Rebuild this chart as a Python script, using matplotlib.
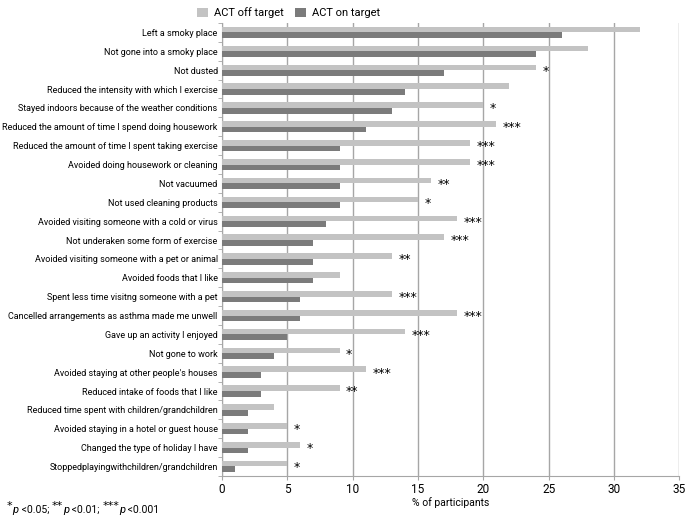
import matplotlib.pyplot as plt
from matplotlib import font_manager
import numpy as np

names = {f.name for f in font_manager.fontManager.ttflist}
narrow = 'Liberation Sans Narrow' if 'Liberation Sans Narrow' in names else 'Roboto'
plt.rcParams['font.family'] = [narrow, 'DejaVu Sans']

categories = [
    'Left a smoky place',
    'Not gone into a smoky place',
    'Not dusted',
    'Reduced the intensity with which I exercise',
    'Stayed indoors because of the weather conditions',
    'Reduced the amount of time I spend doing housework',
    'Reduced the amount of time I spent taking exercise',
    'Avoided doing housework or cleaning',
    'Not vacuumed',
    'Not used cleaning products',
    'Avoided visiting someone with a cold or virus',
    'Not underaken some form of exercise',
    'Avoided visiting someone with a pet or animal',
    'Avoided foods that I like',
    'Spent less time visitng someone with a pet',
    'Cancelled arrangements as asthma made me unwell',
    'Gave up an activity I enjoyed',
    'Not gone to work',
    "Avoided staying at other people's houses",
    'Reduced intake of foods that I like',
    'Reduced time spent with children/grandchildren',
    'Avoided staying in a hotel or guest house',
    'Changed the type of holiday I have',
    'Stoppedplayingwithchildren/grandchildren',
]
off_target = [32, 28, 24, 22, 20, 21, 19, 19, 16, 15, 18, 17, 13, 9, 13, 18, 14, 9, 11, 9, 4, 5, 6, 5]
on_target = [26, 24, 17, 14, 13, 11, 9, 9, 9, 9, 8, 7, 7, 7, 6, 6, 5, 4, 3, 3, 2, 2, 2, 1]
stars = ['', '', '*', '', '*', '***', '***', '***', '**', '*', '***', '***', '**', '',
         '***', '***', '***', '*', '***', '**', '', '*', '*', '*']

light = '#c3c3c3'
dark = '#7b7b7b'
grid = '#a6a6a6'

fig = plt.figure(figsize=(6.87, 5.23), dpi=100)
ax = fig.add_axes([0.323, 0.090, 0.666, 0.866])

y = np.arange(len(categories))
h = 0.3
ax.barh(y - h / 2, off_target, height=h, color=light, label='ACT off target', zorder=3)
ax.barh(y + h / 2, on_target, height=h, color=dark, label='ACT on target', zorder=3)

for yi, v, s in zip(y, off_target, stars):
    if s:
        ax.text(v + 0.5, yi - h / 2 + 0.2, s, fontsize=9, ha='left', va='center',
                family='DejaVu Sans', zorder=4)

ax.set_xlim(0, 35)
ax.set_ylim(len(categories) - 0.5, -0.5)
ax.set_xticks(np.arange(0, 36, 5))
ax.set_yticks(y)
ax.set_yticklabels(categories, fontsize=6.5)
ax.set_yticks(np.arange(-0.5, len(categories), 1), minor=True)
ax.tick_params(axis='y', which='major', length=0, pad=3)
ax.tick_params(axis='y', which='minor', length=3, color=grid)
ax.tick_params(axis='x', length=3, color=grid, labelsize=8.5, pad=2)
ax.grid(axis='x', color=grid, linewidth=1, zorder=0)
for side in ['top', 'right']:
    ax.spines[side].set_visible(False)
for side in ['left', 'bottom']:
    ax.spines[side].set_color(grid)

ax.set_xlabel('% of participants', fontsize=7.5, labelpad=1)

fig.legend(loc='upper center', bbox_to_anchor=(0.42, 1.005), ncol=2, frameon=False,
           fontsize=8, handlelength=1.0, handleheight=1.0, columnspacing=1.0,
           handletextpad=0.5)

# footnote built piece by piece: raised asterisks, italic p
pieces = [('*', 'sup'), ('p', 'it'), (' <0.05; ', 'rm'),
          ('**', 'sup'), ('p', 'it'), (' <0.01; ', 'rm'),
          ('***', 'sup'), ('p', 'it'), (' <0.001', 'rm')]
renderer = fig.canvas.get_renderer()
x = 7 / 687
y0 = 0.025
for txt, kind in pieces:
    if kind == 'sup':
        t = fig.text(x, y0 + 0.008, txt, fontsize=8, family='DejaVu Sans', va='center')
    elif kind == 'it':
        t = fig.text(x, y0, txt, fontsize=8, style='italic', va='center')
    else:
        t = fig.text(x, y0, txt.replace(' ', '\u00a0'), fontsize=7.5, va='center')
    bb = t.get_window_extent(renderer)
    x += bb.width / fig.bbox.width

fig.savefig('out.png', dpi=100)
